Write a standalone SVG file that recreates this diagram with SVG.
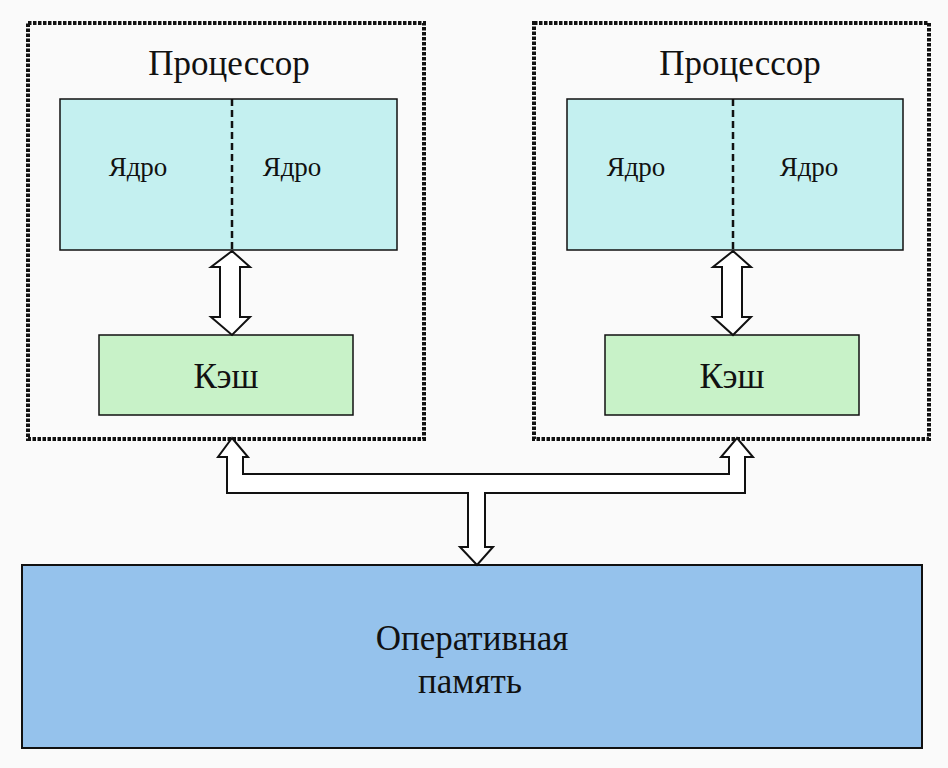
<svg xmlns="http://www.w3.org/2000/svg" width="948" height="768" viewBox="0 0 948 768">
<style>
.proc{fill:none;stroke:#111;stroke-width:4;stroke-dasharray:3.5 1.5}
.core{fill:#c4f0f0;stroke:#111;stroke-width:1.5}
.cache{fill:#c8f2c8;stroke:#111;stroke-width:1.5}
.ram{fill:#95c2ec;stroke:#111;stroke-width:2}
.div{stroke:#111;stroke-width:2.5;stroke-dasharray:7 4}
.arrow{fill:#fff;stroke:#111;stroke-width:2;stroke-linejoin:miter}
text{font-family:"Liberation Serif","Times New Roman",serif;fill:#111;text-anchor:middle}
.t1{font-size:35px}
.t2{font-size:27px}
.t3{font-size:35px}
</style>
<rect width="948" height="768" fill="#fafafa"/>
<g id="cpu1">
<rect class="proc" x="28" y="23" width="396" height="416"/>
<text class="t1" x="229" y="75">Процессор</text>
</g>
<g id="cores1">
<rect class="core" x="60" y="99" width="337" height="151"/>
<line class="div" x1="232" y1="99" x2="232" y2="250"/>
<text class="t2" x="138" y="176">Ядро</text>
<text class="t2" x="292" y="176">Ядро</text>
</g>
<g id="cache1">
<rect class="cache" x="99" y="335" width="254" height="80"/>
<text class="t1" x="226" y="388">Кэш</text>
</g>
<g id="cpu2">
<rect class="proc" x="534" y="23" width="395" height="416"/>
<text class="t1" x="740" y="75">Процессор</text>
</g>
<g id="cores2">
<rect class="core" x="567" y="99" width="336" height="151"/>
<line class="div" x1="733" y1="99" x2="733" y2="250"/>
<text class="t2" x="636" y="176">Ядро</text>
<text class="t2" x="809" y="176">Ядро</text>
</g>
<g id="cache2">
<rect class="cache" x="605" y="335" width="254" height="80"/>
<text class="t1" x="732" y="388">Кэш</text>
</g>
<g id="ram">
<rect class="ram" x="22" y="565" width="900" height="183"/>
<text class="t3" x="472" y="650">Оперативная</text>
<text class="t3" x="470" y="693">память</text>
</g>
<g id="connectors">
<path class="arrow" d="M232,251 L250,267 L240,267 L240,317 L250,317 L232,335 L211,317 L220,317 L220,267 L211,267 Z"/>
<path class="arrow" d="M733,251 L751,267 L742,267 L742,317 L751,317 L733,335 L713,317 L722,317 L722,267 L713,267 Z"/>
<path class="arrow" d="M232,438 L248,457 L243,457 L243,474 L729,474 L729,457 L721,457 L737,438 L753,457 L745,457 L745,493 L485,493 L485,547 L493,547 L477,565 L460,547 L468,547 L468,493 L227,493 L227,457 L218,457 Z"/>
</g>
</svg>
